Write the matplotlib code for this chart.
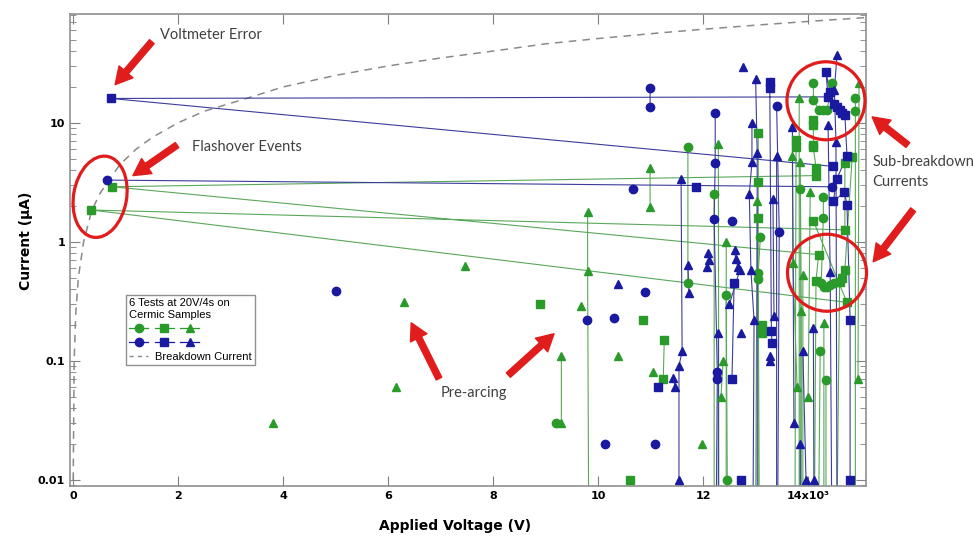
import numpy as np
import matplotlib
matplotlib.use("Agg")
import matplotlib.pyplot as plt
import matplotlib.transforms as mtransforms
from matplotlib.lines import Line2D
from matplotlib.patches import Ellipse
from matplotlib.legend_handler import HandlerTuple

nan = np.nan

# green circles (voltage kV, current uA); nan breaks the connecting line
v_gc = [9.2, nan, 11.71, 11.71, nan, 12.21, 12.21, nan, 12.44, 12.46, nan,
        13.09, 13.05, 13.05, 13.07, nan, 13.85, 13.85, nan,
        14.1, 14.1, 14.2, 14.28, 14.36, 14.46, nan,
        14.29, 14.29, 14.25, 14.3, 14.36, 14.42, 14.5, 14.58, nan,
        14.23, 14.2, nan, 14.34, 14.34, nan, 14.9, 14.9, 14.9]
i_gc = [0.03, nan, 6.3, 0.45, nan, 2.5, 0.005, nan, 0.36, 0.01, nan,
        1.1, 0.55, 0.49, 0.005, nan, 2.8, 0.005, nan,
        21.7, 15.6, 12.9, 12.9, 12.9, 21.7, nan,
        2.4, 1.6, 0.45, 0.42, 0.42, 0.43, 0.45, 0.46, nan,
        0.12, 0.005, nan, 0.069, 0.005, nan, 16, 12.6, 0.005]

# green squares
v_gs = [8.9, nan, 10.85, nan, 10.6, nan, 11.26, 11.24, nan,
        13.05, 13.05, 13.05, 13.05, nan, 13.12, 13.12, nan, 13.77, 13.77, 13.75, nan,
        14.1, 14.1, 14.1, 14.1, 14.15, 14.15, 0.75, 14.2, 14.15, 14.12, nan,
        14.1, 14.74, 0.35, 14.7, 14.7, 14.84, 14.7, 14.65, 14.6, 14.55]
i_gs = [0.3, nan, 0.22, nan, 0.01, nan, 0.15, 0.07, nan,
        8.2, 3.2, 1.6, 0.005, nan, 0.2, 0.17, nan, 7.2, 6.3, 0.005, nan,
        10.6, 9.6, 6.5, 6.2, 4.2, 3.6, 2.9, 0.78, 0.47, 0.005, nan,
        1.5, 0.31, 1.85, 1.26, 4.6, 5.2, 0.58, 0.5, 0.46, 0.005]

# green triangles
v_gt = [3.8, nan, 6.15, nan, 6.3, nan, 7.47, nan, 9.3, 9.3, nan, 9.68, nan,
        9.8, 9.8, 9.82, nan, 10.37, nan, 10.99, 10.99, nan, 11.05, nan, 11.98, nan,
        12.29, 12.3, nan, 12.38, 12.34, nan, 12.44, 12.44, nan, 13.03, 13.0, nan,
        13.7, 13.71, 13.79, nan, 13.85, 13.87, 13.87, nan, 13.83, 13.83, nan,
        14.04, 14.0, nan, 13.9, 13.9, nan, 14.3, 14.3, nan, 14.97, 14.95]
i_gt = [0.03, nan, 0.06, nan, 0.31, nan, 0.63, nan, 0.11, 0.03, nan, 0.29, nan,
        1.78, 0.57, 0.005, nan, 0.11, nan, 4.2, 1.96, nan, 0.08, nan, 0.02, nan,
        6.6, 0.005, nan, 0.10, 0.05, nan, 1.0, 0.005, nan, 2.2, 0.005, nan,
        5.3, 0.67, 0.06, nan, 4.7, 0.26, 0.005, nan, 16.3, 0.005, nan,
        2.6, 0.05, nan, 0.53, 0.005, nan, 0.21, 0.005, nan, 21.7, 0.07]

# blue circles
v_bc = [0.65, 14.45, nan, 5.0, nan, 9.79, nan, 10.13, nan, 10.3, nan, 10.9, nan,
        10.99, 10.99, nan, 11.09, nan, 10.67, nan,
        12.23, 12.23, 12.21, 12.27, 12.27, 12.25, nan, 12.55, nan,
        13.4, 13.45, 13.42]
i_bc = [3.3, 2.9, nan, 0.39, nan, 0.22, nan, 0.02, nan, 0.23, nan, 0.38, nan,
        19.6, 13.6, nan, 0.02, nan, 2.8, nan,
        12, 4.6, 1.56, 0.08, 0.07, 0.005, nan, 1.5, nan,
        13.9, 1.2, 0.005]

# blue squares
v_bs = [11.14, nan, 11.87, nan, 12.59, 12.55, nan, 12.72, nan,
        13.27, 13.27, 13.3, 13.31, nan,
        14.48, 0.72, 14.38, 14.34, 14.42, 14.5, 14.55, 14.6, 14.65, 14.7,
        14.74, 14.55, 14.48, 14.69, 14.74, 14.8, 14.8]
i_bs = [0.06, nan, 2.9, nan, 0.45, 0.07, nan, 0.01, nan,
        22, 19.6, 0.18, 0.14, nan,
        4.3, 16, 16.5, 26.8, 18, 14.5, 13.5, 12.8, 12, 11.7,
        5.3, 3.4, 2.2, 2.6, 2.05, 0.22, 0.01]

# blue triangles
v_bt = [10.38, nan, 11.43, 11.47, nan, 11.58, 11.6, 11.54, 11.54, nan, 11.71, 11.73, nan,
        12.1, 12.12, 12.08, nan, 12.29, 12.29, nan,
        12.6, 12.62, 12.66, 12.7, 12.5, nan, 12.72, nan, 12.76, nan,
        12.93, 12.93, 12.88, 12.91, 12.97, 12.95, nan, 13.0, 13.03, 13.03, nan,
        13.28, 13.28, nan, 13.33, 13.35, nan, 13.4, 13.4, nan, 13.7, 13.73, nan,
        13.85, 13.85, nan, 13.9, 13.96, nan, 14.1, 14.11, nan,
        14.38, 14.42, 14.45, nan, 14.55, 14.5, 14.53, 14.55]
i_bt = [0.44, nan, 0.072, 0.06, nan, 3.4, 0.12, 0.091, 0.01, nan, 0.64, 0.37, nan,
        0.8, 0.7, 0.62, nan, 0.17, 0.005, nan,
        0.85, 0.72, 0.62, 0.58, 0.3, nan, 0.17, nan, 29.5, nan,
        10, 4.7, 2.5, 0.58, 0.22, 0.005, nan, 23.4, 5.6, 0.005, nan,
        0.11, 0.1, nan, 2.3, 0.24, nan, 5.3, 0.005, nan, 9.3, 0.03, nan,
        0.02, 0.005, nan, 0.12, 0.01, nan, 0.19, 0.01, nan,
        9.6, 0.56, 0.005, nan, 37, 19, 6.9, 0.005]

# breakdown current curve
v_bd = [0.002, 0.02, 0.05, 0.1, 0.2, 0.35, 0.5, 0.7, 0.9, 1.2, 1.5, 2.0, 2.5, 3.3,
        4.0, 5.0, 6.0, 7.0, 8.0, 9.0, 10.0, 11.2, 12.0, 13.0, 14.0, 15.2]
i_bd = [0.01, 0.1, 0.25, 0.5, 1.0, 1.8, 2.5, 3.4, 4.5, 6.0, 7.5, 10, 12.5, 16,
        20, 25, 30, 35, 40, 46, 51, 57, 61, 66, 71, 77]

xticks = [0, 2, 4, 6, 8, 10, 12, 14]
xticklabels = ["0", "2", "4", "6", "8", "10", "12", "14x10\u00b3"]

green = "#2a9a2a"
blue = "#1a1aa0"
gline = "#5aa85a"
bline = "#3c3c9c"
red = "#e01c1c"
grey_txt = "#404040"

fig = plt.figure(figsize=(9.73, 5.37), dpi=100)
ax = fig.add_axes([0.0719, 0.095, 0.818, 0.879])
plt.rcParams["font.family"] = ["Liberation Sans", "DejaVu Sans"]

ax.plot(v_bd, i_bd, color="#8a8a8a", lw=1.1, ls=(0, (5, 4)), zorder=1)

series = [
    (v_gc, i_gc, "o", green, gline),
    (v_gs, i_gs, "s", green, gline),
    (v_gt, i_gt, "^", green, gline),
    (v_bc, i_bc, "o", blue, bline),
    (v_bs, i_bs, "s", blue, bline),
    (v_bt, i_bt, "^", blue, bline),
]
for v, i, m, c, lc in series:
    ax.plot(v, i, color=lc, lw=0.8, zorder=2)
for v, i, m, c, lc in series:
    ax.plot(v, i, ls="none", marker=m, ms=6, color=c, mec=c, zorder=3)

ax.set_yscale("log")
ax.set_xlim(-0.06, 15.1)
ax.set_ylim(0.0089, 82)
ax.set_xticks(xticks)
ax.set_xticklabels(xticklabels)
ax.set_yticks([0.01, 0.1, 1, 10])
ax.set_yticklabels(["0.01", "0.1", "1", "10"])
ax.tick_params(which="both", direction="in", top=True, right=True, color="#808080")
ax.tick_params(which="major", length=7, labelsize=8)
ax.tick_params(which="minor", length=4)
for lab in ax.get_xticklabels() + ax.get_yticklabels():
    lab.set_fontweight("bold")
for s in ax.spines.values():
    s.set_color("#909090")
    s.set_linewidth(1.2)

ax.set_xlabel("Applied Voltage (V)", fontsize=10, fontweight="bold")
ax.set_ylabel("Current (\u00b5A)", fontsize=10, fontweight="bold")
ax.xaxis.set_label_coords(0.484, -0.07)
ax.yaxis.set_label_coords(-0.046, 0.52)


class WideTuple(HandlerTuple):
    def create_artists(self, legend, orig_handle, xdescent, ydescent, width, height, fontsize, trans):
        return super().create_artists(legend, orig_handle, xdescent, ydescent, width * 3.7,
                                      height, fontsize, trans)


gh = tuple(Line2D([], [], color=green, marker=m, ms=6, lw=0.9) for m in "os^")
bh = tuple(Line2D([], [], color=blue, marker=m, ms=6, lw=0.9) for m in "os^")
dh = Line2D([], [], color="#8a8a8a", lw=1, ls=(0, (3, 3)))
leg = ax.legend([gh, bh, dh], ["", "", "Breakdown Current"],
                handler_map={tuple: WideTuple(ndivide=None, pad=0.6)},
                title="6 Tests at 20V/4s on\nCermic Samples", alignment="left",
                loc="upper left", bbox_to_anchor=(0.0704, 0.4047), borderaxespad=0,
                fontsize=8, title_fontsize=8, handlelength=1.7, handletextpad=0.6,
                labelspacing=0.35, borderpad=0.3, fancybox=False, framealpha=1,
                edgecolor="#909090")
leg.get_frame().set_linewidth(1)

# red call-outs
arrow = dict(arrowstyle="simple,head_width=1.2,head_length=1.1,tail_width=0.4",
             fc=red, ec=red, mutation_scale=11, shrinkA=0, shrinkB=0)
ann_font = dict(family=["Lato", "DejaVu Sans"], fontsize=10.5, color=grey_txt)
callouts = [((0.80, 20.9), (1.50, 48)), ((1.14, 3.6), (1.98, 6.5)),
            ((6.44, 0.209), (6.97, 0.071)), ((9.16, 0.169), (8.29, 0.076)),
            ((15.22, 11.2), (15.9, 6.5)), ((15.24, 0.68), (16.0, 1.86))]
for head, tail in callouts:
    ax.annotate("", xy=head, xytext=tail, arrowprops=arrow, annotation_clip=False)

ax.text(1.66, 55, "Voltmeter Error", ha="left", va="center", **ann_font)
ax.text(2.27, 6.2, "Flashover Events", ha="left", va="center", **ann_font)
ax.text(7.64, 0.054, "Pre-arcing", ha="center", va="center", **ann_font)
ax.text(15.22, 3.87, "Sub-breakdown\nCurrents", ha="left", va="center",
        linespacing=1.5, clip_on=False, **ann_font)

rings = [((0.514, 2.39), 82, 53, 80), ((14.34, 15.3), 78, 78, 0), ((14.36, 0.55), 79, 77, 0)]
for (cx, cy), w, h, ang in rings:
    e = Ellipse((0, 0), w, h, angle=ang, fill=False, ec=red, lw=2.3, zorder=5,
                transform=mtransforms.ScaledTranslation(cx, cy, ax.transData))
    fig.add_artist(e)

fig.savefig("out.png", dpi=100)
